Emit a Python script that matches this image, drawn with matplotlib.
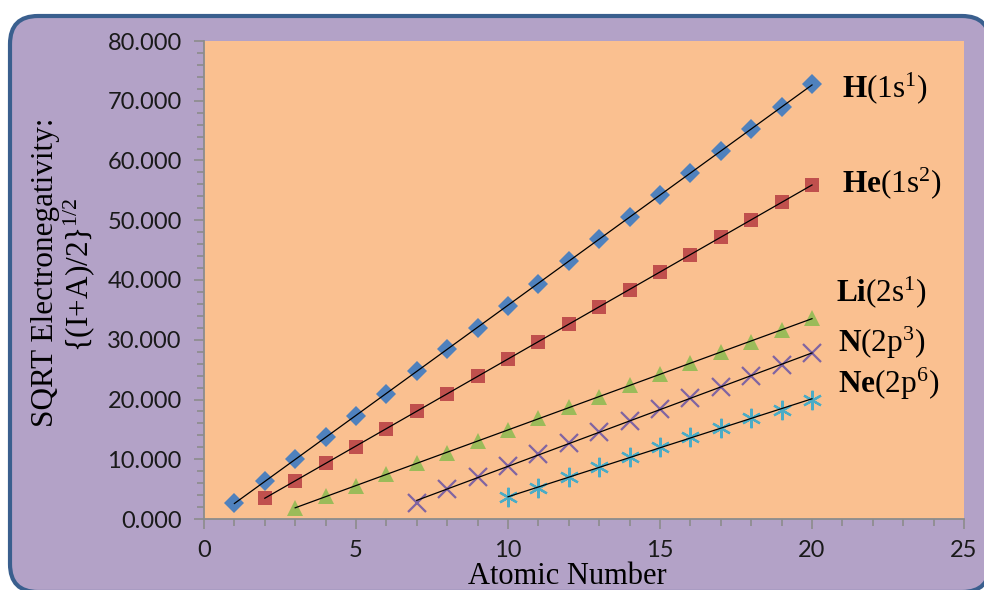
import matplotlib.pyplot as plt
import numpy as np
from matplotlib.patches import FancyBboxPatch
from matplotlib.ticker import MultipleLocator, FormatStrFormatter

plt.rcParams['mathtext.fontset'] = 'custom'
plt.rcParams['mathtext.rm'] = 'Liberation Serif'
plt.rcParams['mathtext.it'] = 'Liberation Serif:italic'
plt.rcParams['mathtext.bf'] = 'Liberation Serif:bold'

# atomic number vs sqrt electronegativity for each isoelectronic series
h_z = list(range(1, 21))
h_val = [2.7, 6.4, 10.0, 13.7, 17.3, 21.0, 24.7, 28.4, 32.0, 35.6,
         39.4, 43.1, 46.8, 50.5, 54.2, 57.9, 61.6, 65.3, 69.0, 72.8]
he_z = list(range(2, 21))
he_val = [3.5, 6.4, 9.3, 12.1, 15.1, 18.1, 21.0, 23.9, 26.8, 29.7,
          32.6, 35.5, 38.4, 41.3, 44.2, 47.2, 50.1, 53.0, 55.9]
li_z = list(range(3, 21))
li_val = [1.8, 3.8, 5.5, 7.5, 9.4, 11.1, 13.0, 14.9, 16.9, 18.7,
          20.5, 22.4, 24.2, 26.1, 27.9, 29.7, 31.6, 33.6]
n_z = list(range(7, 21))
n_val = [2.7, 5.1, 7.0, 8.9, 10.8, 12.7, 14.6, 16.4, 18.4, 20.3,
         22.1, 23.9, 25.8, 27.7]
ne_z = list(range(10, 21))
ne_val = [3.6, 5.2, 7.0, 8.7, 10.4, 12.1, 13.7, 15.2, 16.9, 18.3, 20.0]

labels = [r'$\mathbf{H}$(1s$^{1}$)', r'$\mathbf{He}$(1s$^{2}$)',
          r'$\mathbf{Li}$(2s$^{1}$)', r'$\mathbf{N}$(2p$^{3}$)',
          r'$\mathbf{Ne}$(2p$^{6}$)']

fig = plt.figure(figsize=(9.84, 5.90), dpi=100)
fig.patch.set_facecolor('white')

# rounded purple chart frame (pixel coords, origin bottom-left)
frame = FancyBboxPatch((10, -2), 980, 576, boxstyle='round,pad=0,rounding_size=28',
                       transform=None, facecolor='#B3A2C7', edgecolor='#3A5F8E',
                       linewidth=3, zorder=-5)
fig.patches.append(frame)

ax = fig.add_axes([204 / 984, 71 / 590, 760 / 984, 478 / 590])
ax.set_facecolor('#FAC090')
ax.set_zorder(2)

series = [
    (h_z, h_val, dict(marker='D', color='#4F81BD', ms=10.5, mew=0)),
    (he_z, he_val, dict(marker='s', color='#C0504D', ms=10.5, mew=0)),
    (li_z, li_val, dict(marker='^', color='#9BBB59', ms=11.5, mew=0)),
    (n_z, n_val, dict(marker='x', color='#8064A2', ms=13, mew=1.6)),
    (ne_z, ne_val, dict(marker=(6, 2, 0), color='#4BACC6', ms=14, mew=1.6)),
]
for z, v, style in series:
    ax.plot(z, v, linestyle='none', zorder=2, **style)
    a, b = np.polyfit(z, v, 1)
    xs = np.array([z[0], z[-1]])
    ax.plot(xs, a * xs + b, color='black', lw=0.9, zorder=3)

label_pos = [(21.0, 72.1), (21.0, 56.2), (20.8, 38.0), (20.85, 29.5), (20.85, 22.6)]
for (lx, ly), txt in zip(label_pos, labels):
    ax.text(lx, ly, txt, fontsize=22.5, family='Liberation Serif',
            ha='left', va='center')

ax.set_xlim(0, 25)
ax.set_ylim(0, 80)
ax.xaxis.set_major_locator(MultipleLocator(5))
ax.xaxis.set_minor_locator(MultipleLocator(1))
ax.yaxis.set_major_locator(MultipleLocator(10))
ax.yaxis.set_minor_locator(MultipleLocator(2))
ax.yaxis.set_major_formatter(FormatStrFormatter('%.3f'))

for s in ['top', 'right']:
    ax.spines[s].set_visible(False)
for s in ['left', 'bottom']:
    ax.spines[s].set_color('#8C8C8C')
    ax.spines[s].set_linewidth(1.3)
ax.tick_params(which='major', direction='out', length=7, width=1.2, color='#8C8C8C',
               labelsize=17, labelcolor='#1A1A1A', pad=9)
ax.tick_params(which='minor', direction='out', length=5, width=1.2, color='#8C8C8C')
ax.tick_params(axis='x', pad=8)
for lab in ax.get_xticklabels() + ax.get_yticklabels():
    lab.set_family('Lato')

fig.text(567 / 984, 6 / 590, 'Atomic Number', fontsize=22, family='Liberation Serif',
         ha='center', va='baseline')
fig.text(46 / 984, (590 - 272) / 590, 'SQRT Electronegativity:', fontsize=22.5,
         family='Liberation Serif', rotation=90, ha='center', va='center')
fig.text(79 / 984, (590 - 275) / 590, '{(I+A)/2}$^{1/2}$', fontsize=22.5,
         family='Liberation Serif', rotation=90, ha='center', va='center')

fig.savefig('out.png', dpi=100)
